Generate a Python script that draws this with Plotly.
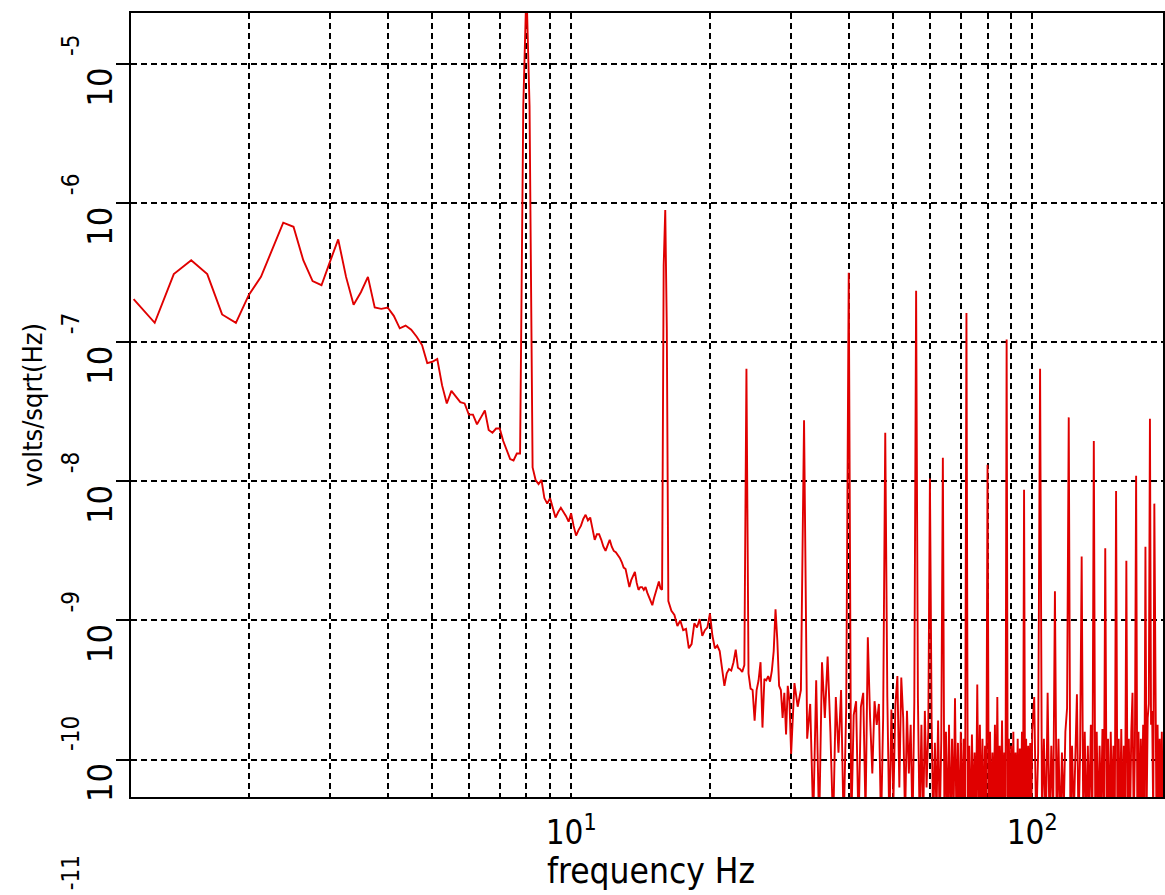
import plotly.graph_objects as go

# ---------------- data (log10 of volts/sqrt(Hz)) ----------------
# segment 1: 1.125 Hz .. 16.25 Hz, bins of 0.125 Hz
seg1_start, seg1_step = 1.125, 0.125
seg1_levels = [
    -6.69, -6.86, -6.51, -6.41, -6.51, -6.80, -6.86, -6.66, -6.53, -6.33,
    -6.14, -6.17, -6.41, -6.56, -6.59, -6.42, -6.26, -6.53, -6.73, -6.64,
    -6.53, -6.75, -6.76, -6.75, -6.81, -6.90, -6.88, -6.91, -6.96, -7.02,
    -7.15, -7.14, -7.12, -7.31, -7.44, -7.35, -7.39, -7.43, -7.44, -7.52,
    -7.52, -7.59, -7.54, -7.49, -7.63, -7.65, -7.62, -7.62, -7.71, -7.77,
    -7.84, -7.85, -7.80, -7.80, -7.80, -7.80, -7.80, -7.90, -7.99, -8.02,
    -7.99, -8.12, -8.16, -8.12, -8.19, -8.26, -8.22, -8.19, -8.22, -8.25,
    -8.29, -8.23, -8.32, -8.39, -8.35, -8.32, -8.27, -8.24, -8.28, -8.26,
    -8.34, -8.42, -8.38, -8.38, -8.42, -8.47, -8.50, -8.46, -8.42, -8.47,
    -8.50, -8.51, -8.53, -8.55, -8.58, -8.62, -8.63, -8.69, -8.76, -8.71,
    -8.68, -8.65, -8.73, -8.78, -8.76, -8.76, -8.78, -8.76, -8.80, -8.83,
    -8.86, -8.89, -8.84, -8.80, -8.76, -8.72, -8.77, -8.78, -8.78, -8.78,
    -8.78, -8.86,
]
# segment 2: 16.5 Hz .. 30 Hz, bins of 0.25 Hz
seg2_start, seg2_step = 16.5, 0.25
seg2_levels = [
    -8.93, -8.96, -9.04, -9.00, -9.07, -9.06, -9.20, -9.17, -9.02, -9.05,
    -8.99, -9.11, -9.07, -9.05, -8.95, -9.11, -9.20, -9.18, -9.22, -9.34,
    -9.47, -9.38, -9.35, -9.36, -9.30, -9.21, -9.34, -9.35, -9.37, -9.32,
    -9.32, -9.38, -9.49, -9.50, -9.72, -9.50, -9.43, -9.30, -9.77, -9.42,
    -9.43, -9.40, -9.44, -9.36, -9.22, -9.22, -9.14, -9.47, -9.50, -9.70,
    -9.52, -9.82, -9.47, -9.58, -9.96,
]
# segment 3: 30.5 Hz .. 100 Hz, bins of 0.5 Hz
seg3_start, seg3_step = 30.5, 0.5
seg3_levels = [
    -9.45, -9.62, -9.50, -9.60, -9.85, -9.60, -10.45, -9.43, -10.50, -9.30,
    -9.70, -9.26, -9.80, -10.50, -9.55, -9.95, -9.50, -10.50, -9.62, -9.70,
    -10.50, -9.68, -9.58, -10.50, -9.62, -9.52, -10.40, -9.12, -9.70, -10.10,
    -9.58, -9.75, -9.60, -10.50, -9.70, -9.70, -9.55, -10.50, -9.64, -10.30,
    -9.60, -9.40, -10.20, -9.41, -9.70, -10.45, -9.65, -10.10, -9.75, -10.50,
    -9.58, -9.60, -9.55, -10.50, -9.75, -10.50, -9.65, -10.20, -9.80, -9.70,
    -9.72, -10.50, -9.88, -10.40, -9.72, -10.50, -9.85, -9.90, -10.50, -9.80,
    -10.55, -9.75, -10.50, -9.85, -10.45, -9.56, -10.50, -9.88, -10.55, -9.80,
    -10.45, -9.85, -10.50, -9.90, -10.50, -9.90, -10.55, -9.82, -10.40, -9.95,
    -10.50, -9.46, -10.50, -9.75, -10.45, -9.85, -10.55, -9.90, -10.40, -9.90,
    -10.50, -9.80, -10.50, -9.95, -10.40, -9.75, -10.55, -9.55, -10.50, -9.90,
    -10.45, -9.72, -10.55, -9.95, -10.40, -9.90, -10.50, -9.85, -10.55, -9.90,
    -10.40, -9.80, -10.50, -9.95, -10.45, -9.85, -10.55, -9.92, -10.40, -9.80,
    -10.50, -9.90, -10.45, -9.85, -10.55, -9.90, -10.40, -9.88, -10.50, -9.80,
]
# segment 4: 101 Hz .. 192 Hz, bins of 1 Hz
seg4_start, seg4_step = 101.0, 1.0
seg4_levels = [
    -9.55, -10.50, -9.95, -9.90, -10.45, -9.85, -10.55, -9.52, -10.50, -9.90,
    -10.45, -9.90, -10.50, -9.85, -10.55, -9.95, -10.40, -9.80, -9.63, -9.90,
    -10.50, -9.90, -10.45, -9.85, -9.53, -10.50, -9.95, -9.90, -10.45, -9.80,
    -10.55, -9.90, -10.40, -9.75, -10.50, -9.90, -10.45, -9.80, -10.55, -9.90,
    -10.40, -9.78, -10.50, -9.90, -10.45, -9.85, -10.55, -9.80, -10.40, -9.90,
    -10.50, -9.90, -10.45, -9.85, -10.50, -9.78, -10.55, -9.90, -10.40, -9.90,
    -10.50, -9.85, -10.45, -9.80, -9.52, -10.50, -9.90, -9.90, -10.45, -9.80,
    -10.55, -9.85, -10.40, -9.75, -10.50, -9.90, -10.40, -9.70, -9.60, -9.90,
    -9.75, -9.65, -10.45, -9.90, -9.80, -10.50, -9.75, -10.40, -9.85, -10.50,
    -9.80, -10.45,
]
# narrow spectral lines (Hz, log10 amplitude)
line_freqs = [7.875, 8.0, 8.125, 15.875, 16.0, 16.125, 24.0, 27.75,
              32.0, 40.0, 48.0, 56.0, 60.0, 64.0, 72.0, 80.0, 88.0, 96.0,
              104.0, 112.0, 120.0, 128.0, 136.0, 144.0, 152.0, 160.0,
              168.0, 176.0, 180.0, 184.0]
line_levels = [-5.30, -4.45, -5.30, -6.45, -6.05, -6.90, -7.19, -8.92,
               -7.56, -6.50, -7.65, -6.63, -7.98, -7.83, -6.79, -7.88, -6.98, -8.06,
               -7.19, -8.79, -7.54, -8.54, -7.71, -8.48, -8.07, -8.57,
               -7.96, -8.47, -7.55, -8.16]

y_decades = [-5, -6, -7, -8, -9, -10, -11]
x_major_vals = [10, 100]
x_major_text = ["10<sup>1</sup>", "10<sup>2</sup>"]
x_minor_vals = [2, 3, 4, 5, 6, 7, 8, 9, 20, 30, 40, 50, 60, 70, 80, 90]

X_RANGE = [0.0455, 2.2836]
Y_RANGE = [-10.269, -4.633]

# ---------------- assemble ----------------
freqs, levels = [], []
for start, step, vals in [(seg1_start, seg1_step, seg1_levels),
                          (seg2_start, seg2_step, seg2_levels),
                          (seg3_start, seg3_step, seg3_levels),
                          (seg4_start, seg4_step, seg4_levels)]:
    for i, v in enumerate(vals):
        freqs.append(round(start + i * step, 4))
        levels.append(v)
for lf, lv in zip(line_freqs, line_levels):
    k = min(range(len(freqs)), key=lambda j: abs(freqs[j] - lf))
    levels[k] = lv
amps = [10 ** v for v in levels]

FONT = "Liberation Sans Narrow, DejaVu Sans Condensed, Liberation Sans, sans-serif"
GRID = dict(showgrid=True, gridcolor="black", gridwidth=1.6, griddash="6px,4px")

fig = go.Figure()
fig.add_trace(go.Scatter(x=freqs, y=amps, mode="lines",
                         line=dict(color="#e00000", width=1.9),
                         showlegend=False, hoverinfo="skip"))

annotations = []
for d in y_decades:
    yfrac = (d - Y_RANGE[0]) / (Y_RANGE[1] - Y_RANGE[0])
    if yfrac >= 0:
        annotations.append(dict(text="10", xref="paper", x=0, xanchor="center", xshift=-31,
                                yref="paper", y=yfrac, yanchor="top", yshift=-2, textangle=-90,
                                showarrow=False, font=dict(family=FONT, size=34, color="black")))
    annotations.append(dict(text=str(d), xref="paper", x=0, xanchor="center", xshift=-60,
                            yref="paper", y=yfrac, yanchor="bottom", yshift=6, textangle=-90,
                            showarrow=False, font=dict(family=FONT, size=24, color="black")))
annotations.append(dict(text="volts/sqrt(Hz)", xref="paper", x=0, xanchor="center", xshift=-99,
                        yref="paper", y=0.5, yanchor="middle", textangle=-90,
                        showarrow=False, font=dict(family=FONT, size=27, color="black")))
annotations.append(dict(text="frequency Hz", xref="paper", x=0.5, xanchor="center", xshift=4,
                        yref="paper", y=0, yanchor="top", yshift=-52,
                        showarrow=False, font=dict(family=FONT, size=35, color="black")))

fig.update_layout(
    width=1165, height=895,
    margin=dict(l=131, r=0, t=13, b=98, pad=0),
    paper_bgcolor="white", plot_bgcolor="white",
    font=dict(family=FONT, color="black"),
    annotations=annotations,
    xaxis=dict(type="log", range=X_RANGE,
               tickmode="array", tickvals=x_major_vals, ticktext=x_major_text,
               tickfont=dict(family=FONT, size=33, color="black"),
               ticks="", ticklabelstandoff=5,
               minor=dict(tickmode="array", tickvals=x_minor_vals, ticks="", **GRID),
               showline=True, linecolor="black", linewidth=2, mirror=True,
               zeroline=False, **GRID),
    yaxis=dict(type="log", range=Y_RANGE,
               tickmode="array", tickvals=[10 ** d for d in y_decades[:-1]],
               showticklabels=False,
               ticks="outside", ticklen=13, tickwidth=2, tickcolor="black",
               showline=True, linecolor="black", linewidth=2, mirror=True,
               zeroline=False, **GRID),
)

fig.write_html("out.html")
